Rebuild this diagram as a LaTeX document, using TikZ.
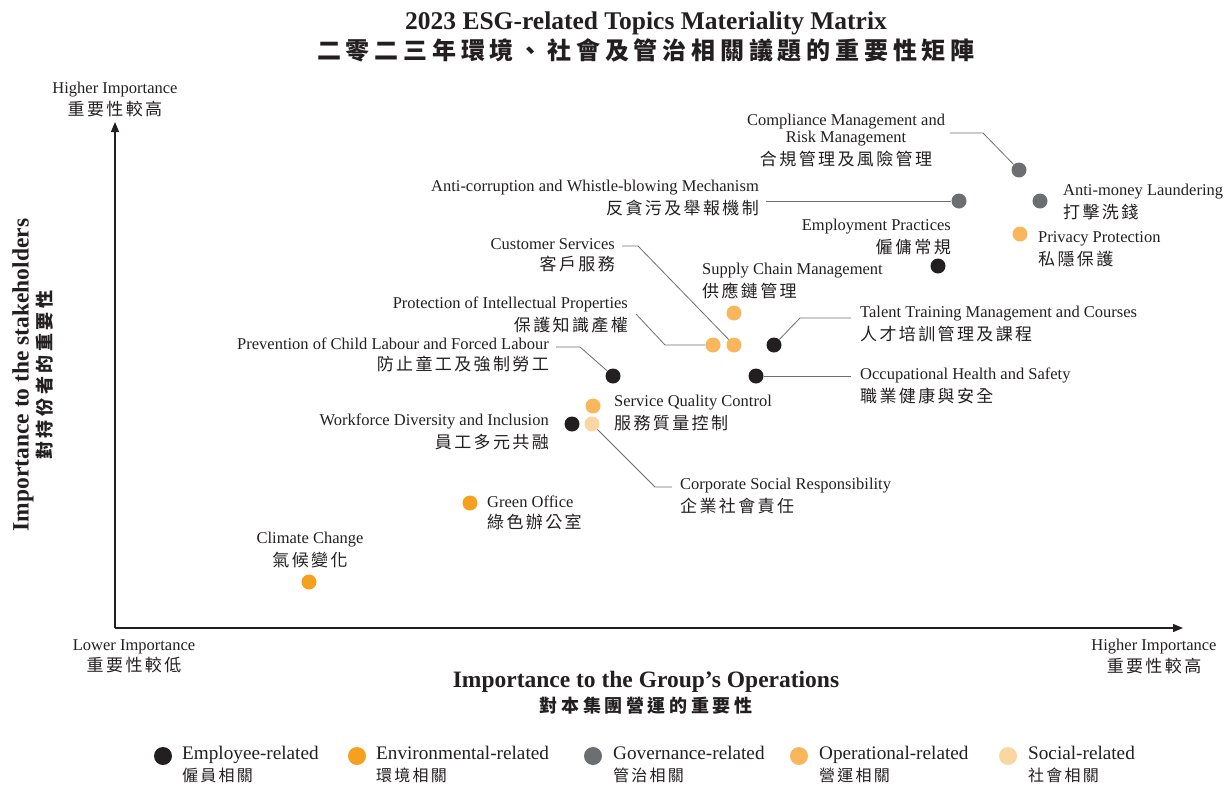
\documentclass[tikz,border=0pt]{standalone}
\usepackage{fontspec}
\setmainfont{Liberation Serif}
\newfontfamily\cj[LetterSpace=14]{Noto Sans CJK TC}
\newfontfamily\cjt[LetterSpace=20]{Noto Sans CJK TC}
\usetikzlibrary{arrows.meta}
\definecolor{ink}{HTML}{231F20}
\definecolor{emp}{HTML}{231F20}
\definecolor{env}{HTML}{F5A01E}
\definecolor{gov}{HTML}{6D6E71}
\definecolor{ope}{HTML}{F8B75C}
\definecolor{soc}{HTML}{FCD6A0}
\newcommand\zh[1]{{\fontsize{17}{17}\selectfont\cj #1}}
\newcommand\zhl[1]{{\fontsize{16}{16}\selectfont\cj #1}}
\tikzset{
  dot/.style={circle, minimum size=15pt, inner sep=0pt, fill=#1},
  ldot/.style={circle, minimum size=18pt, inner sep=0pt, fill=#1},
  lbl/.style={inner sep=0pt, text=ink, font=\fontsize{16.5}{17}\selectfont},
  leg/.style={inner sep=0pt, text=ink, font=\fontsize{19.2}{19}\selectfont, align=left, anchor=north west},
  lead/.style={draw=gov, line width=0.8pt},
  axis/.style={draw=ink, line width=1.2pt, -{Triangle[length=10pt,width=8pt]}}
}
\begin{document}
\begin{tikzpicture}[x=1pt,y=-1pt]
\useasboundingbox (0,0) rectangle (1228,785);
% titles
\node[inner sep=0pt, text=ink, align=center, anchor=north] (title) at (646,12)
  {{\fontsize{25.5}{26}\selectfont\bfseries 2023 ESG-related Topics Materiality Matrix}\\[2pt]
   {\fontsize{24}{24}\selectfont\cjt\bfseries 二零二三年環境、社會及管治相關議題的重要性矩陣}};
% axes
\coordinate (O) at (115,628);
\coordinate (ytop) at (115,122);
\coordinate (xend) at (1183,628);
\draw[axis] (O) -- (ytop);
\draw[axis] (O) -- (xend);
\node[lbl, align=center, anchor=north] (hiY) at (115,82) {Higher Importance\\[3pt]\zh{重要性較高}};
\node[lbl, align=center, anchor=north] (loX) at (134,639) {Lower Importance\\[3pt]\zh{重要性較低}};
\node[lbl, align=center, anchor=north] (hiX) at (1154,639) {Higher Importance\\[3pt]\zh{重要性較高}};
\node[inner sep=0pt, text=ink, align=center, anchor=north] (xtitle) at (646,671)
  {{\fontsize{23.5}{22}\selectfont\bfseries Importance to the Group's Operations}\\[3pt]
   {\fontsize{18}{18}\selectfont\cjt\bfseries 對本集團營運的重要性}};
\node[inner sep=0pt, text=ink, align=center, rotate=90] (ytitle) at (33,375)
  {{\fontsize{23.5}{22}\selectfont\bfseries Importance to the stakeholders}\\[2pt]
   {\fontsize{18}{18}\selectfont\cjt\bfseries 對持份者的重要性}};
% dots
\node[dot=gov] (comp) at (1019,170) {};
\node[dot=gov] (aml) at (1040,201) {};
\node[dot=gov] (anti) at (959,201) {};
\node[dot=ope] (priv) at (1020,234) {};
\node[dot=emp] (empl) at (938,266) {};
\node[dot=ope] (supp) at (734,313) {};
\node[dot=ope] (ip) at (713,345) {};
\node[dot=ope] (cust) at (734,345) {};
\node[dot=emp] (tal) at (774,345) {};
\node[dot=emp] (child) at (613,376) {};
\node[dot=emp] (ohs) at (756,376) {};
\node[dot=ope] (sqc) at (593,406) {};
\node[dot=emp] (wdi) at (572,424) {};
\node[dot=soc] (csr) at (592,424) {};
\node[dot=env] (green) at (470,503) {};
\node[dot=env] (clim) at (309,582) {};
% labels
\node[lbl, align=center, anchor=north] (compL) at (846,114) {Compliance Management and\\Risk Management\\[4pt]\zh{合規管理及風險管理}};
\node[lbl, align=right, anchor=north east] (antiL) at (759,180) {Anti-corruption and Whistle-blowing Mechanism\\[4pt]\zh{反貪污及舉報機制}};
\node[lbl, align=left, anchor=north west] (amlL) at (1063,184) {Anti-money Laundering\\[4pt]\zh{打擊洗錢}};
\node[lbl, align=left, anchor=north west] (privL) at (1038,231) {Privacy Protection\\[4pt]\zh{私隱保護}};
\node[lbl, align=right, anchor=north east] (emplL) at (951,219) {Employment Practices\\[4pt]\zh{僱傭常規}};
\node[lbl, align=right, anchor=north east] (custL) at (615,238) {Customer Services\\[4pt]\zh{客戶服務}};
\node[lbl, align=left, anchor=north west] (suppL) at (702,263) {Supply Chain Management\\[4pt]\zh{供應鏈管理}};
\node[lbl, align=right, anchor=north east] (ipL) at (628,297) {Protection of Intellectual Properties\\[4pt]\zh{保護知識產權}};
\node[lbl, align=left, anchor=north west] (talL) at (860,306) {Talent Training Management and Courses\\[4pt]\zh{人才培訓管理及課程}};
\node[lbl, align=right, anchor=north east] (childL) at (549,338) {Prevention of Child Labour and Forced Labour\\[4pt]\zh{防止童工及強制勞工}};
\node[lbl, align=left, anchor=north west] (ohsL) at (860,368) {Occupational Health and Safety\\[4pt]\zh{職業健康與安全}};
\node[lbl, align=left, anchor=north west] (sqcL) at (614,395) {Service Quality Control\\[4pt]\zh{服務質量控制}};
\node[lbl, align=right, anchor=north east] (wdiL) at (549,414) {Workforce Diversity and Inclusion\\[4pt]\zh{員工多元共融}};
\node[lbl, align=left, anchor=north west] (csrL) at (680,478) {Corporate Social Responsibility\\[4pt]\zh{企業社會責任}};
\node[lbl, align=left, anchor=north west] (greenL) at (487,496) {Green Office\\[4pt]\zh{綠色辦公室}};
\node[lbl, align=center, anchor=north] (climL) at (310,532) {Climate Change\\[4pt]\zh{氣候變化}};
% leader lines
\coordinate (c1a) at (950,133); \coordinate (c1b) at (983,133);
\draw[lead] (c1a) -- (c1b) -- (comp);
\coordinate (c2) at (766,201);
\draw[lead] (c2) -- (anti);
\coordinate (c3a) at (622,246); \coordinate (c3b) at (638,246);
\draw[lead] (c3a) -- (c3b) -- (cust);
\coordinate (c4a) at (636,314); \coordinate (c4b) at (665,345);
\draw[lead] (c4a) -- (c4b) -- (ip);
\coordinate (c5a) at (800,318); \coordinate (c5b) at (851,318);
\draw[lead] (tal) -- (c5a) -- (c5b);
\coordinate (c6a) at (556,347); \coordinate (c6b) at (580,347);
\draw[lead] (c6a) -- (c6b) -- (child);
\coordinate (c7) at (851,376);
\draw[lead] (ohs) -- (c7);
\coordinate (c8a) at (655,487); \coordinate (c8b) at (672,487);
\draw[lead] (csr) -- (c8a) -- (c8b);
% legend
\node[ldot=emp] (lg1) at (163,756) {};
\node[leg] (lt1) at (182,746) {Employee-related\\[3pt]\zhl{僱員相關}};
\node[ldot=env] (lg2) at (357,756) {};
\node[leg] (lt2) at (376,746) {Environmental-related\\[3pt]\zhl{環境相關}};
\node[ldot=gov] (lg3) at (593,756) {};
\node[leg] (lt3) at (613,746) {Governance-related\\[3pt]\zhl{管治相關}};
\node[ldot=ope] (lg4) at (799,756) {};
\node[leg] (lt4) at (819,746) {Operational-related\\[3pt]\zhl{營運相關}};
\node[ldot=soc] (lg5) at (1008,756) {};
\node[leg] (lt5) at (1028,746) {Social-related\\[3pt]\zhl{社會相關}};
\end{tikzpicture}
\end{document}
